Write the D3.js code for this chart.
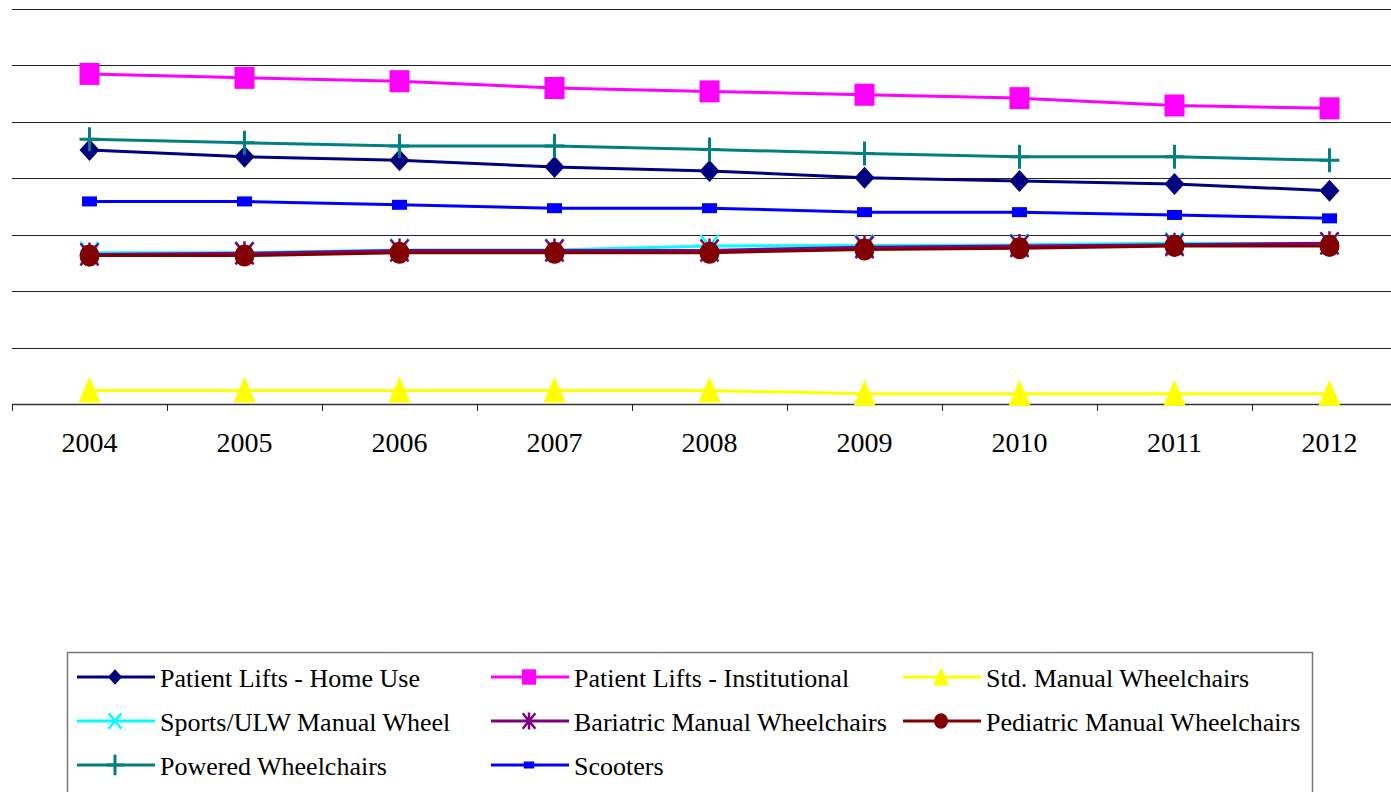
<!DOCTYPE html>
<meta charset="utf-8">
<script src="https://d3js.org/d3.v7.min.js"></script>
<style>
  body { margin: 0; background: #fff; }
  text { font-family: "Liberation Serif", "Times New Roman", serif; fill: #000; }
</style>
<div id="chart"></div>
<script>
    // values (value axis has no labels, 7 gridline steps)
    const years = ["2004", "2005", "2006", "2007", "2008", "2009", "2010", "2011", "2012"];
    const homeUse       = [4.50, 4.38, 4.32, 4.20, 4.13, 4.01, 3.95, 3.90, 3.78];
    const institutional = [5.85, 5.78, 5.72, 5.60, 5.54, 5.48, 5.42, 5.29, 5.24];
    const stdManual     = [0.24, 0.24, 0.24, 0.24, 0.24, 0.18, 0.18, 0.18, 0.18];
    const sportsUlw     = [2.68, 2.68, 2.73, 2.73, 2.80, 2.81, 2.82, 2.85, 2.84];
    const bariatric     = [2.65, 2.67, 2.72, 2.72, 2.72, 2.78, 2.80, 2.82, 2.85];
    const pediatric     = [2.63, 2.63, 2.68, 2.68, 2.68, 2.74, 2.76, 2.80, 2.80];
    const powered       = [4.69, 4.63, 4.57, 4.57, 4.51, 4.44, 4.38, 4.38, 4.32];
    const scooters      = [3.59, 3.59, 3.53, 3.47, 3.47, 3.40, 3.40, 3.35, 3.29];
    const yTicks = [0, 1, 2, 3, 4, 5, 6, 7];

    const series = [
        {name: "Patient Lifts - Home Use", values: homeUse, color: "#000080", marker: "diamond"},
        {name: "Patient Lifts - Institutional", values: institutional, color: "#ff00ff", marker: "square"},
        {name: "Std. Manual Wheelchairs", values: stdManual, color: "#ffff00", marker: "triangle"},
        {name: "Sports/ULW Manual Wheel", values: sportsUlw, color: "#00ffff", marker: "x"},
        {name: "Bariatric Manual Wheelchairs", values: bariatric, color: "#800080", marker: "star"},
        {name: "Pediatric Manual Wheelchairs", values: pediatric, color: "#800000", marker: "circle"},
        {name: "Powered Wheelchairs", values: powered, color: "#008080", marker: "plus"},
        {name: "Scooters", values: scooters, color: "#0000ff", marker: "smallsquare"}
    ];

    const W = 1391, H = 792;
    const svg = d3.select("#chart").append("svg")
        .attr("width", W)
        .attr("height", H);

    const x = d3.scaleBand().domain(years).range([12, 1407]).padding(0);
    const y = d3.scaleLinear().domain([0, 7]).range([404, 9]);

    // gridlines
    svg.append("g")
        .selectAll("line")
        .data(yTicks.filter(d => d > 0))
        .join("line")
            .attr("x1", 12).attr("x2", W)
            .attr("y1", d => Math.round(y(d)) + 0.5)
            .attr("y2", d => Math.round(y(d)) + 0.5)
            .attr("stroke", "#222")
            .attr("stroke-width", 1);

    // category axis
    const xAxis = svg.append("g")
        .attr("transform", `translate(0, ${Math.round(y(0)) + 0.5})`)
        .call(d3.axisBottom(x).tickSize(0).tickPadding(28));
    xAxis.select(".domain").attr("stroke", "#333").attr("stroke-width", 1.3).attr("d", `M12,0H${W}`);
    xAxis.selectAll("text").attr("font-size", 28).attr("font-family", "Liberation Serif, serif");
    svg.append("g")
        .selectAll("line")
        .data(years)
        .join("line")
            .attr("x1", d => Math.round(x(d)) + 0.5)
            .attr("x2", d => Math.round(x(d)) + 0.5)
            .attr("y1", y(0)).attr("y2", y(0) + 7)
            .attr("stroke", "#222");

    function marker(g, type, color, k) {
        if (type === "diamond") {
            g.append("path").attr("d", `M0,${-11*k}L${10*k},0L0,${11*k}L${-10*k},0Z`).attr("fill", color);
        } else if (type === "square") {
            g.append("rect").attr("x", -10*k).attr("y", -11*k).attr("width", 20*k).attr("height", 22*k).attr("fill", color);
        } else if (type === "triangle") {
            g.append("path").attr("d", `M0,${-14*k}L${11*k},${12*k}L${-11*k},${12*k}Z`).attr("fill", color);
        } else if (type === "x") {
            g.append("path").attr("d", `M${-9*k},${-11*k}L${9*k},${11*k}M${9*k},${-11*k}L${-9*k},${11*k}`)
                .attr("stroke", color).attr("stroke-width", 2.5).attr("fill", "none");
        } else if (type === "star") {
            g.append("path").attr("d", `M${-9*k},${-11*k}L${9*k},${11*k}M${9*k},${-11*k}L${-9*k},${11*k}M0,${-12*k}V${12*k}`)
                .attr("stroke", color).attr("stroke-width", 2.5).attr("fill", "none");
        } else if (type === "circle") {
            g.append("ellipse").attr("rx", 10*k).attr("ry", 11*k).attr("fill", color);
        } else if (type === "plus") {
            g.append("path").attr("d", `M0,${-12*k}V${12*k}M${-10*k},0H${10*k}`)
                .attr("stroke", color).attr("stroke-width", 3).attr("fill", "none");
        } else if (type === "smallsquare") {
            g.append("rect").attr("x", -7.5*k).attr("y", -5*k).attr("width", 15*k).attr("height", 10*k).attr("fill", color);
        }
    }

    const line = d3.line()
        .x((d, i) => x(years[i]) + x.bandwidth() / 2)
        .y(d => y(d));

    series.forEach(s => {
        const g = svg.append("g");
        g.append("path")
            .datum(s.values)
            .attr("fill", "none")
            .attr("stroke", s.color)
            .attr("stroke-width", 3)
            .attr("d", line);
        s.values.forEach((v, i) => {
            const m = g.append("g")
                .attr("transform", `translate(${x(years[i]) + x.bandwidth() / 2}, ${y(v)})`);
            marker(m, s.marker, s.color, 1);
        });
    });

    // legend
    const legend = svg.append("g");
    legend.append("rect")
        .attr("x", 67.5).attr("y", 652.5)
        .attr("width", 1245).attr("height", 200)
        .attr("fill", "none")
        .attr("stroke", "#777")
        .attr("stroke-width", 1.5);

    const colX = [77, 491, 903], rowY = [677, 721, 765];
    series.forEach((s, i) => {
        const lx = colX[i % 3], ly = rowY[Math.floor(i / 3)];
        const item = legend.append("g").attr("transform", `translate(${lx}, ${ly})`);
        item.append("line")
            .attr("x1", 0).attr("x2", 78)
            .attr("stroke", s.color).attr("stroke-width", 3);
        marker(item.append("g").attr("transform", "translate(38, 0)"), s.marker, s.color, s.marker === "plus" ? 0.85 : 0.7);
        item.append("text")
            .attr("x", 83).attr("y", 10)
            .attr("font-size", 26)
            .text(s.name);
    });
</script>
